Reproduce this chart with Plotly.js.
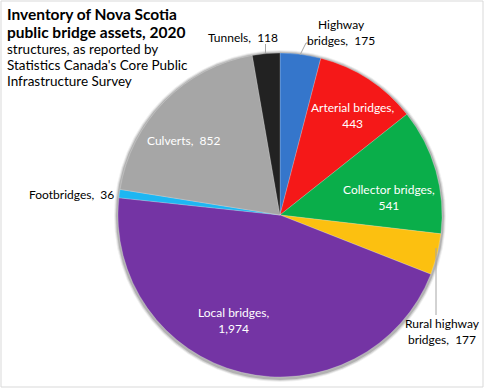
<!DOCTYPE html>
<html>
<head>
<meta charset="utf-8">
<script src="https://cdn.plot.ly/plotly-3.0.1.min.js"></script>
<style>html,body{margin:0;padding:0;background:#fff;}#chart{width:486px;height:390px;}</style>
</head>
<body>
<div id="chart"></div>
<script>
// Data
const categories = ["Highway bridges", "Arterial bridges", "Collector bridges", "Rural highway bridges",
                    "Local bridges", "Footbridges", "Culverts", "Tunnels"];
const values = [175, 443, 541, 177, 1974, 36, 852, 118];
const colors = ["#3576CB", "#F51818", "#0AAE4A", "#FCC010", "#7434A4", "#1EB6F2", "#A6A6A6", "#222222"];
const titleLines = ["Inventory of Nova Scotia", "public bridge assets, 2020"];
const subtitleLines = ["structures, as reported by", "Statistics Canada's Core Public", "Infrastructure Survey"];

// Label layout (pixel positions of label anchors, line break point, colour)
const labelLayout = [
  {x: 341, y: 32, br: "Highway", col: "#000", anchor: "center"},
  {x: 353, y: 115, br: "Arterial bridges,", col: "#fff", anchor: "center"},
  {x: 389, y: 197, br: "Collector bridges,", col: "#fff", anchor: "center"},
  {x: 442, y: 331, br: "Rural highway", col: "#000", anchor: "center"},
  {x: 233, y: 320, br: "Local bridges,", col: "#fff", anchor: "center"},
  {x: 116, y: 194, br: null, col: "#000", anchor: "right"},
  {x: 183, y: 140, br: null, col: "#fff", anchor: "center"},
  {x: 243, y: 38, br: null, col: "#000", anchor: "center"}
];

const W = 486, H = 390;
const px = v => v / W;
const py = v => 1 - v / H;
const FONT = "Lato, 'Open Sans', sans-serif";

function labelText(i) {
  const full = categories[i] + ",  " + values[i].toLocaleString("en-US");
  const br = labelLayout[i].br;
  if (!br) return full;
  const rest = full.slice(br.length).trim();
  return br + "<br>" + rest;
}

const annotations = [];
categories.forEach((c, i) => {
  const L = labelLayout[i];
  annotations.push({
    xref: "paper", yref: "paper", x: px(L.x), y: py(L.y),
    xanchor: L.anchor, yanchor: "middle", showarrow: false,
    text: labelText(i), align: "center",
    font: {family: FONT, size: 12, color: L.col}
  });
});
const titleY = [14, 32];
titleLines.forEach((t, i) => annotations.push({
  xref: "paper", yref: "paper", x: px(6), y: py(titleY[i]), xanchor: "left", yanchor: "middle",
  showarrow: false, text: "<b>" + t + "</b>", borderpad: 0,
  font: {family: FONT, size: 15.5, color: "#000"}
}));
const subY = [49, 65, 81];
subtitleLines.forEach((t, i) => annotations.push({
  xref: "paper", yref: "paper", x: px(6), y: py(subY[i]), xanchor: "left", yanchor: "middle",
  showarrow: false, text: t, borderpad: 0,
  font: {family: FONT, size: 13.5, color: "#000"}
}));

const cx = 280, cy = 215, r = 162;
const shapes = [
  {type: "rect", xref: "paper", yref: "paper", x0: px(1), y0: py(1), x1: px(483), y1: py(387),
   line: {color: "#d9d9d9", width: 1}, fillcolor: "rgba(0,0,0,0)"},
  // leader lines
  {type: "path", xref: "paper", yref: "paper", path: `M ${px(265.5)} ${py(53)} L ${px(265.5)} ${py(44)}`, line: {color: "#a6a6a6", width: 1}},
  {type: "path", xref: "paper", yref: "paper", path: `M ${px(300)} ${py(55)} L ${px(306)} ${py(43)} L ${px(310)} ${py(43)}`, line: {color: "#a6a6a6", width: 1}},
  {type: "path", xref: "paper", yref: "paper", path: `M ${px(436)} ${py(248)} L ${px(436)} ${py(315)}`, line: {color: "#a6a6a6", width: 1}}
];
// soft shadow
[4, 3, 2].forEach((d, k) => {
  shapes.push({type: "circle", xref: "paper", yref: "paper", layer: "below",
    x0: px(cx - r - d), x1: px(cx + r + d), y0: py(cy + r + d + 1), y1: py(cy - r - d + 1),
    line: {width: 0}, fillcolor: "rgba(0,0,0," + (0.06 + 0.05 * k) + ")"});
});

const trace = {
  type: "pie",
  labels: categories,
  values: values,
  sort: false,
  direction: "clockwise",
  rotation: 0,
  marker: {colors: colors, line: {color: "rgba(255,255,255,0.4)", width: 0.5}},
  textinfo: "none",
  hoverinfo: "label+value",
  domain: {x: [px(cx - r), px(cx + r)], y: [py(cy + r), py(cy - r)]},
  showlegend: false
};

Plotly.newPlot("chart", [trace], {
  width: W, height: H,
  margin: {l: 0, r: 0, t: 0, b: 0},
  paper_bgcolor: "#fff",
  showlegend: false,
  annotations: annotations,
  shapes: shapes
}, {displayModeBar: false, staticPlot: true});
</script>
</body>
</html>
